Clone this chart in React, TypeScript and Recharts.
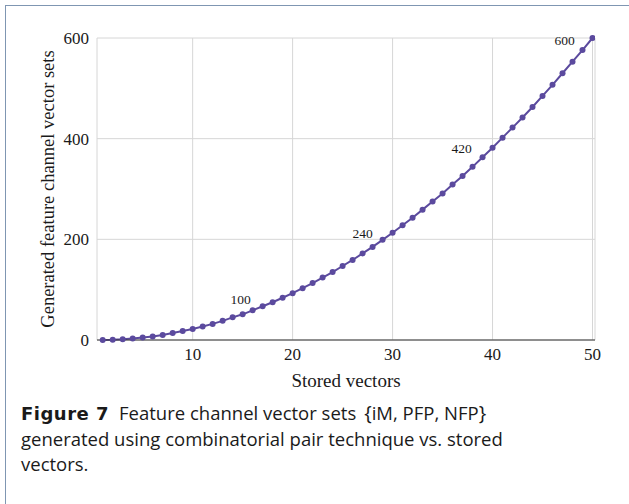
import {
  LineChart, Line, XAxis, YAxis, CartesianGrid, ReferenceDot, Label,
} from 'recharts'

// stored vectors (x) and generated feature channel vector sets (y)
const storedVectors = [
  1, 2, 3, 4, 5, 6, 7, 8, 9, 10,
  11, 12, 13, 14, 15, 16, 17, 18, 19, 20,
  21, 22, 23, 24, 25, 26, 27, 28, 29, 30,
  31, 32, 33, 34, 35, 36, 37, 38, 39, 40,
  41, 42, 43, 44, 45, 46, 47, 48, 49, 50,
]
const generatedSets = [
  0, 0.5, 1.5, 3, 5, 7, 10, 14, 18, 22,
  27, 32, 38, 45, 51, 59, 67, 75, 84, 93,
  103, 113, 124, 135, 147, 159, 172, 185, 199, 213,
  228, 243, 259, 275, 291, 309, 326, 344, 363, 382,
  402, 422, 442, 463, 485, 507, 530, 553, 576, 600,
]

const xTicks = [10, 20, 30, 40, 50]
const yTicks = [0, 200, 400, 600]

// value annotations drawn over the curve
const noteX = [14.8, 27, 36.9, 47.2]
const noteY = [82, 213, 381, 595]
const noteText = ['100', '240', '420', '600']

const data = storedVectors.map((x, i) => ({ x, y: generatedSets[i] }))

const serif = '"Liberation Serif", "Times New Roman", serif'
const purple = '#5b4a9e'

export default function App() {
  return (
    <div style={{ position: 'absolute', left: 0, top: 0, width: 629, height: 504, background: '#fff' }}>
      <div
        style={{
          position: 'absolute', left: 5, top: 5, right: 0, bottom: 0,
          borderLeft: '1.5px solid #7f96b2', borderTop: '1.5px solid #7f96b2',
        }}
      />
      <div style={{ position: 'absolute', left: 0, top: 0 }}>
        <LineChart
          width={629}
          height={400}
          data={data}
          margin={{ top: 38, right: 34, left: 37, bottom: 8 }}
        >
          <CartesianGrid stroke="#d6d6d6" />
          <XAxis
            dataKey="x"
            type="number"
            domain={[0.43, 50.25]}
            ticks={xTicks}
            allowDataOverflow
            height={52}
            tickLine={false}
            axisLine={{ stroke: '#333' }}
            tick={{ fontSize: 17, fill: '#1a1a1a', fontFamily: serif }}
          >
            <Label
              value="Stored vectors"
              position="insideBottom"
              offset={5}
              style={{ fontSize: 19, fill: '#1a1a1a', fontFamily: serif }}
            />
          </XAxis>
          <YAxis
            type="number"
            domain={[0, 600]}
            ticks={yTicks}
            width={60}
            tickLine={false}
            axisLine={false}
            tick={{ fontSize: 17, fill: '#1a1a1a', fontFamily: serif }}
          >
            <Label
              value="Generated feature channel vector sets"
              angle={-90}
              position="center"
              dx={-20}
              style={{ fontSize: 18.5, fill: '#1a1a1a', fontFamily: serif, textAnchor: 'middle' }}
            />
          </YAxis>
          <Line
            type="linear"
            dataKey="y"
            stroke={purple}
            strokeWidth={2}
            dot={{ r: 3, fill: purple, stroke: purple, strokeWidth: 0 }}
            isAnimationActive={false}
          />
          {noteText.map((t, i) => (
            <ReferenceDot
              key={t}
              x={noteX[i]}
              y={noteY[i]}
              r={0}
              stroke="none"
              fill="none"
              ifOverflow="visible"
              label={{ value: t, position: 'center', fontSize: 13.5, fill: '#1a1a1a', fontFamily: serif }}
            />
          ))}
        </LineChart>
      </div>
      <div
        style={{
          position: 'absolute', left: 21, top: 400, width: 608,
          fontFamily: '"Open Sans", sans-serif', fontSize: 18.5, lineHeight: '25px', color: '#1a1a1a',
          whiteSpace: 'nowrap',
        }}
      >
        <b style={{ fontFamily: '"DejaVu Sans", sans-serif', fontSize: 18, letterSpacing: 0.5 }}>Figure 7</b>
        <span style={{ marginLeft: 10 }}>Feature channel vector sets</span>
        <span style={{ marginLeft: 8, fontSize: 20 }}>{'{'}</span>iM, PFP, NFP<span style={{ fontSize: 20 }}>{'}'}</span>
        <br />
        generated using combinatorial pair technique vs. stored
        <br />
        vectors.
      </div>
    </div>
  )
}
